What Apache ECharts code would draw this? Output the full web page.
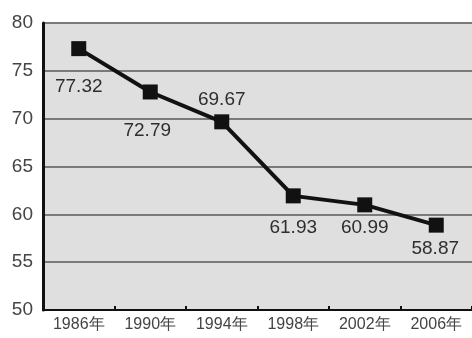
<!DOCTYPE html>
<html><head><meta charset="utf-8">
<script src="https://cdn.jsdelivr.net/npm/echarts@6/dist/echarts.min.js"></script>
<style>html,body{margin:0;padding:0;background:#fff}#c{width:472px;height:338px}</style>
</head><body><div id="c"></div>
<script>
const categories = ['1986年','1990年','1994年','1998年','2002年','2006年'];
const values = [77.32, 72.79, 69.67, 61.93, 60.99, 58.87];
const yTicks = [50, 55, 60, 65, 70, 75, 80];
const labelOffsets = [[0,38],[-3,39],[0,-22],[0,32],[0,23],[-1,24]];
const font = 'Liberation Sans, Arial, Helvetica, sans-serif';

const chart = echarts.init(document.getElementById('c'));
chart.setOption({
  animation: false,
  grid: {left: 43, top: 23, width: 432, height: 287, show: true, backgroundColor: '#dfdfdf', borderWidth: 0},
  xAxis: {
    type: 'category', data: categories, boundaryGap: true,
    axisLine: {lineStyle: {color: '#111', width: 2}},
    axisTick: {show: true, inside: true, length: 4, lineStyle: {color: '#111', width: 2}},
    axisLabel: {color: '#444', fontSize: 16, fontFamily: font, margin: 7},
    splitLine: {show: false}
  },
  yAxis: {
    type: 'value', min: yTicks[0], max: yTicks[yTicks.length-1], interval: 5,
    axisLine: {show: true, lineStyle: {color: '#111', width: 3}},
    axisTick: {show: false},
    axisLabel: {color: '#444', fontSize: 19, fontFamily: font, margin: 10, padding: [0,0,6,0]},
    splitLine: {show: true, lineStyle: {color: '#7a7a7a', width: 2}}
  },
  series: [{
    type: 'line',
    data: values.map((v, i) => ({value: v, label: {offset: labelOffsets[i]}})),
    symbol: 'rect', symbolSize: 15,
    lineStyle: {color: '#111', width: 4},
    itemStyle: {color: '#111'},
    label: {show: true, position: 'inside', color: '#2e2e2e', fontSize: 19, fontFamily: font,
      formatter: p => p.value.toFixed(2)}
  }]
});
</script></body></html>
